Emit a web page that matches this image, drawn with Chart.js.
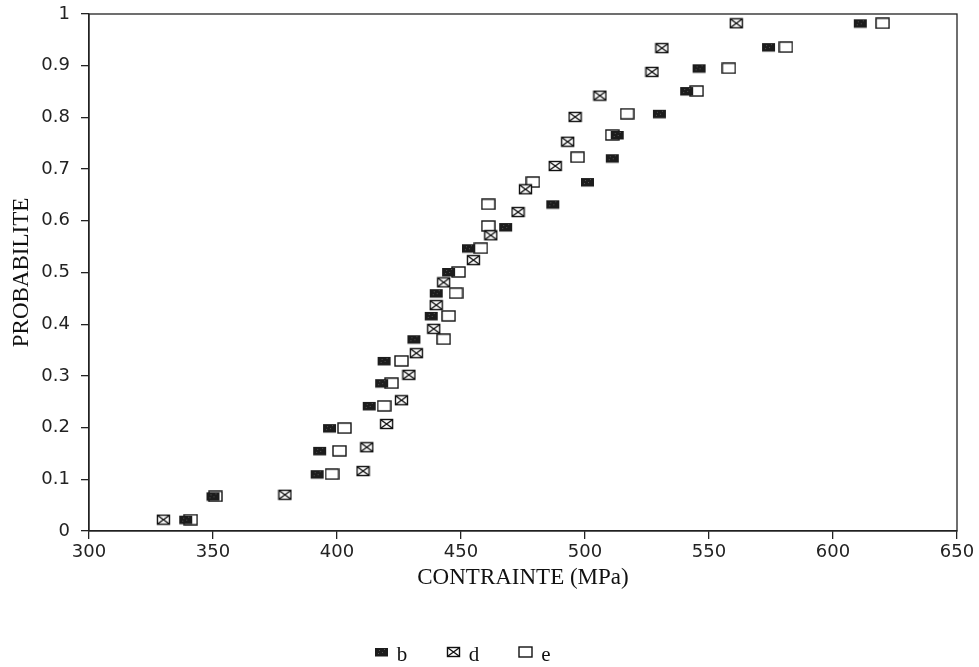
<!DOCTYPE html>
<html>
<head>
<meta charset="utf-8">
<script src="https://cdn.jsdelivr.net/npm/chart.js@4/dist/chart.umd.min.js"></script>
<style>
html,body{margin:0;padding:0;background:#fff;}
#wrap{width:979px;height:667px;position:relative;}
</style>
</head>
<body>
<div id="wrap"><canvas id="c" width="979" height="667"></canvas></div>
<script>
// ---- data ----
const stressB = [339, 350, 392, 393, 397, 413, 418, 419, 431, 438, 440, 445, 453, 468, 487, 501, 511, 513, 530, 541, 546, 574, 611];
const probB   = [0.022, 0.067, 0.110, 0.155, 0.199, 0.242, 0.286, 0.329, 0.371, 0.416, 0.460, 0.501, 0.547, 0.588, 0.632, 0.675, 0.721, 0.766, 0.807, 0.851, 0.895, 0.936, 0.982];

const stressD = [330, 379, 410.5, 412, 420, 426, 429, 432, 439, 440, 443, 455, 462, 473, 476, 488, 493, 496, 506, 527, 531, 561];
const probD   = [0.022, 0.070, 0.116, 0.162, 0.207, 0.253, 0.302, 0.344, 0.391, 0.437, 0.481, 0.524, 0.572, 0.617, 0.661, 0.706, 0.753, 0.801, 0.842, 0.888, 0.934, 0.982];

const stressE = [341, 351, 398, 401, 403, 419, 422, 426, 443, 445, 448, 449, 458, 461, 461, 479, 497, 511, 517, 545, 558, 581, 620];
const probE   = [0.022, 0.067, 0.110, 0.155, 0.199, 0.242, 0.286, 0.329, 0.371, 0.416, 0.460, 0.501, 0.547, 0.590, 0.632, 0.675, 0.723, 0.766, 0.807, 0.851, 0.895, 0.936, 0.982];

const seriesNames = ['b', 'd', 'e'];
const xTicks = [300, 350, 400, 450, 500, 550, 600, 650];
const yTicks = [0, 0.1, 0.2, 0.3, 0.4, 0.5, 0.6, 0.7, 0.8, 0.9, 1];

// ---- marker images ----
function marker(kind){
  const c = document.createElement('canvas');
  c.width = 15; c.height = 12;
  const g = c.getContext('2d');
  if(kind === 'b'){
    g.fillStyle = '#1c1c1c';
    g.fillRect(1,2,13,8.5);
    g.fillStyle = '#555';
    g.fillRect(5,4,1,1); g.fillRect(8,6,1,1); g.fillRect(4,7,1,1); g.fillRect(10,3,1,1);
  } else if(kind === 'd'){
    g.fillStyle = '#fff'; g.fillRect(1.5,1.5,12,9);
    g.strokeStyle = '#111'; g.lineWidth = 1.4;
    g.strokeRect(1.5,1.5,12,9);
    g.beginPath(); g.moveTo(2,2); g.lineTo(13,10); g.moveTo(13,2); g.lineTo(2,10); g.stroke();
  } else {
    g.fillStyle = '#fff'; g.fillRect(1,1,13,10);
    g.strokeStyle = '#111'; g.lineWidth = 1.4;
    g.strokeRect(1,1,13,10);
  }
  return c;
}
const markers = [marker('b'), marker('d'), marker('e')];

function pts(xs, ys){ return xs.map((x,i)=>({x:x, y:ys[i]})); }

const tickFont = {family: '"DejaVu Sans", "Liberation Sans", sans-serif', size: 18};
const titleFont = {family: '"Liberation Serif", "DejaVu Serif", serif', size: 23};
const legendFontCss = '21px "Liberation Serif", "DejaVu Serif", serif';

const boxPlugin = {
  id: 'box',
  afterDatasetsDraw(chart){
    const a = chart.chartArea, ctx = chart.ctx;
    ctx.save();
    ctx.strokeStyle = '#222'; ctx.lineWidth = 1.3;
    ctx.strokeRect(a.left, a.top, a.right - a.left, a.bottom - a.top);
    ctx.restore();
  }
};

// legend drawn under the plot, built from the datasets
const legendPlugin = {
  id: 'bottomLegend',
  afterDraw(chart){
    const ctx = chart.ctx;
    const y = 655;
    const markerToText = 21, itemStep = 72;
    const startX = 381;
    ctx.save();
    ctx.font = legendFontCss;
    ctx.fillStyle = '#111';
    ctx.textAlign = 'center';
    ctx.textBaseline = 'middle';
    chart.data.datasets.forEach((ds, i) => {
      const mx = startX + i * itemStep;
      const img = ds.pointStyle;
      ctx.drawImage(img, Math.round(mx - img.width/2), Math.round(y - img.height/2 - 3));
      ctx.fillText(ds.label, mx + markerToText, y);
    });
    ctx.restore();
  }
};

new Chart(document.getElementById('c'), {
  type: 'scatter',
  data: {
    datasets: seriesNames.map((name, i) => ({
      label: name,
      data: [pts(stressB, probB), pts(stressD, probD), pts(stressE, probE)][i],
      pointStyle: markers[i], pointRadius: 6, pointHoverRadius: 6
    }))
  },
  options: {
    responsive: false,
    animation: false,
    layout: {padding: {left: 0, right: 22, top: 14, bottom: 66}},
    plugins: {
      tooltip: {enabled: false},
      legend: {display: false}
    },
    scales: {
      x: {
        type: 'linear', min: 300, max: 650,
        afterBuildTicks(s){ s.ticks = xTicks.map(v=>({value:v})); },
        afterFit(s){ s.height = 70; s.paddingLeft = 0; s.paddingRight = 0; },
        grid: {display: true, drawOnChartArea: false, drawTicks: true, tickLength: 8, color: '#222', lineWidth: 1.3},
        border: {display: true, color: '#222', width: 1.3},
        ticks: {color: '#222', font: tickFont, padding: 3, maxRotation: 0, autoSkip: false},
        title: {display: true, text: 'CONTRAINTE (MPa)', color: '#111', font: titleFont, padding: {top: 0, bottom: 9}}
      },
      y: {
        type: 'linear', min: 0, max: 1,
        afterBuildTicks(s){ s.ticks = yTicks.map(v=>({value:v})); },
        afterFit(s){ s.width = 89; s.paddingTop = 0; s.paddingBottom = 0; },
        grid: {display: true, drawOnChartArea: false, drawTicks: true, tickLength: 8, color: '#222', lineWidth: 1.3},
        border: {display: true, color: '#222', width: 1.3},
        ticks: {color: '#222', font: tickFont, padding: 11, autoSkip: false, callback: v => String(v)},
        title: {display: true, text: 'PROBABILITE', color: '#111', font: titleFont, padding: {top: 8, bottom: 2}}
      }
    }
  },
  plugins: [boxPlugin, legendPlugin]
});
</script>
</body>
</html>
